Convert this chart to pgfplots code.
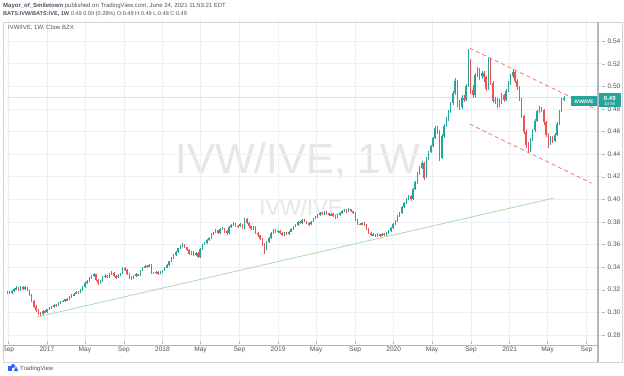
\documentclass[border=0pt]{standalone}
\usepackage{fontspec}
\setmainfont{Liberation Sans}
\usepackage{pgfplots}
\pgfplotsset{compat=1.18}
\usepackage{pgfplotstable}
\definecolor{upc}{HTML}{26A69A}
\definecolor{dnc}{HTML}{EF5350}
\definecolor{gridc}{HTML}{EAF0F6}
\definecolor{txtc}{HTML}{50535E}
\definecolor{framec}{HTML}{D1D4DC}
\definecolor{sepc}{HTML}{B2B5BE}
\definecolor{chc}{HTML}{F47A7C}
\definecolor{trc}{HTML}{A5D6A7}
\definecolor{wmc}{HTML}{E6E6E6}
\definecolor{tvblue}{HTML}{2962FF}
\definecolor{plc}{HTML}{CDE9E6}

\pgfplotstableread{
i o h l c
0 0.3180 0.3192 0.3165 0.3175
1 0.3175 0.3185 0.3160 0.3170
2 0.3170 0.3195 0.3162 0.3185
3 0.3185 0.3215 0.3178 0.3205
4 0.3205 0.3230 0.3195 0.3215
5 0.3215 0.3225 0.3190 0.3200
6 0.3200 0.3235 0.3192 0.3225
7 0.3225 0.3232 0.3200 0.3210
8 0.3210 0.3232 0.3198 0.3220
9 0.3220 0.3228 0.3185 0.3195
10 0.3195 0.3200 0.3140 0.3150
11 0.3150 0.3158 0.3090 0.3100
12 0.3100 0.3105 0.3040 0.3050
13 0.3050 0.3062 0.3005 0.3020
14 0.3020 0.3030 0.2978 0.2990
15 0.2990 0.3002 0.2968 0.2985
16 0.2985 0.3018 0.2975 0.3010
17 0.3010 0.3020 0.2990 0.3000
18 0.3000 0.3032 0.2995 0.3025
19 0.3025 0.3048 0.3018 0.3040
20 0.3040 0.3060 0.3032 0.3050
21 0.3050 0.3072 0.3042 0.3065
22 0.3065 0.3075 0.3050 0.3060
23 0.3060 0.3088 0.3055 0.3080
24 0.3080 0.3102 0.3072 0.3095
25 0.3095 0.3110 0.3088 0.3100
26 0.3100 0.3122 0.3092 0.3115
27 0.3115 0.3125 0.3102 0.3110
28 0.3110 0.3142 0.3105 0.3135
29 0.3135 0.3158 0.3128 0.3150
30 0.3150 0.3172 0.3142 0.3165
31 0.3165 0.3190 0.3158 0.3180
32 0.3180 0.3192 0.3165 0.3175
33 0.3175 0.3208 0.3170 0.3200
34 0.3200 0.3232 0.3192 0.3225
35 0.3225 0.3268 0.3218 0.3260
36 0.3260 0.3285 0.3250 0.3275
37 0.3275 0.3310 0.3268 0.3300
38 0.3300 0.3330 0.3292 0.3320
39 0.3320 0.3348 0.3310 0.3335
40 0.3335 0.3340 0.3278 0.3290
41 0.3290 0.3298 0.3240 0.3260
42 0.3260 0.3288 0.3250 0.3275
43 0.3275 0.3318 0.3268 0.3310
44 0.3310 0.3335 0.3302 0.3325
45 0.3325 0.3332 0.3305 0.3315
46 0.3315 0.3345 0.3308 0.3335
47 0.3335 0.3362 0.3328 0.3350
48 0.3350 0.3355 0.3310 0.3320
49 0.3320 0.3328 0.3298 0.3310
50 0.3310 0.3335 0.3302 0.3325
51 0.3325 0.3350 0.3318 0.3340
52 0.3340 0.3398 0.3335 0.3390
53 0.3390 0.3402 0.3365 0.3375
54 0.3375 0.3380 0.3330 0.3340
55 0.3340 0.3348 0.3298 0.3310
56 0.3310 0.3318 0.3285 0.3300
57 0.3300 0.3332 0.3292 0.3325
58 0.3325 0.3345 0.3315 0.3335
59 0.3335 0.3342 0.3320 0.3330
60 0.3330 0.3378 0.3325 0.3370
61 0.3370 0.3405 0.3362 0.3395
62 0.3395 0.3420 0.3388 0.3410
63 0.3410 0.3418 0.3395 0.3405
64 0.3405 0.3430 0.3398 0.3420
65 0.3420 0.3425 0.3340 0.3350
66 0.3350 0.3360 0.3335 0.3345
67 0.3345 0.3368 0.3338 0.3360
68 0.3360 0.3365 0.3330 0.3340
69 0.3340 0.3362 0.3335 0.3355
70 0.3355 0.3378 0.3348 0.3370
71 0.3370 0.3402 0.3365 0.3395
72 0.3395 0.3428 0.3390 0.3420
73 0.3420 0.3458 0.3412 0.3450
74 0.3450 0.3490 0.3442 0.3480
75 0.3480 0.3518 0.3472 0.3510
76 0.3510 0.3545 0.3502 0.3535
77 0.3535 0.3572 0.3528 0.3565
78 0.3565 0.3600 0.3558 0.3590
79 0.3590 0.3612 0.3582 0.3600
80 0.3600 0.3608 0.3565 0.3575
81 0.3575 0.3582 0.3540 0.3550
82 0.3550 0.3558 0.3510 0.3520
83 0.3520 0.3545 0.3508 0.3535
84 0.3535 0.3542 0.3498 0.3510
85 0.3510 0.3535 0.3500 0.3525
86 0.3525 0.3530 0.3478 0.3490
87 0.3490 0.3568 0.3485 0.3560
88 0.3560 0.3608 0.3552 0.3600
89 0.3600 0.3625 0.3592 0.3615
90 0.3615 0.3650 0.3608 0.3640
91 0.3640 0.3670 0.3632 0.3660
92 0.3660 0.3698 0.3652 0.3690
93 0.3690 0.3715 0.3682 0.3705
94 0.3705 0.3735 0.3698 0.3725
95 0.3725 0.3732 0.3690 0.3700
96 0.3700 0.3742 0.3695 0.3735
97 0.3735 0.3755 0.3725 0.3745
98 0.3745 0.3750 0.3705 0.3720
99 0.3720 0.3728 0.3680 0.3700
100 0.3700 0.3762 0.3695 0.3755
101 0.3755 0.3780 0.3748 0.3770
102 0.3770 0.3795 0.3762 0.3785
103 0.3785 0.3790 0.3755 0.3765
104 0.3765 0.3772 0.3748 0.3760
105 0.3760 0.3788 0.3752 0.3780
106 0.3780 0.3785 0.3735 0.3745
107 0.3745 0.3838 0.3740 0.3830
108 0.3830 0.3835 0.3780 0.3790
109 0.3790 0.3795 0.3748 0.3760
110 0.3760 0.3768 0.3728 0.3740
111 0.3740 0.3765 0.3730 0.3755
112 0.3755 0.3760 0.3690 0.3700
113 0.3700 0.3708 0.3668 0.3680
114 0.3680 0.3688 0.3638 0.3650
115 0.3650 0.3655 0.3585 0.3600
116 0.3600 0.3610 0.3520 0.3560
117 0.3560 0.3628 0.3552 0.3620
118 0.3620 0.3668 0.3612 0.3660
119 0.3660 0.3708 0.3652 0.3700
120 0.3700 0.3740 0.3692 0.3730
121 0.3730 0.3738 0.3705 0.3715
122 0.3715 0.3732 0.3705 0.3720
123 0.3720 0.3728 0.3690 0.3700
124 0.3700 0.3708 0.3672 0.3685
125 0.3685 0.3712 0.3678 0.3705
126 0.3705 0.3712 0.3680 0.3690
127 0.3690 0.3722 0.3685 0.3715
128 0.3715 0.3748 0.3708 0.3740
129 0.3740 0.3768 0.3732 0.3760
130 0.3760 0.3785 0.3752 0.3775
131 0.3775 0.3808 0.3768 0.3800
132 0.3800 0.3810 0.3780 0.3790
133 0.3790 0.3822 0.3785 0.3815
134 0.3815 0.3825 0.3795 0.3805
135 0.3805 0.3812 0.3780 0.3790
136 0.3790 0.3798 0.3768 0.3780
137 0.3780 0.3808 0.3772 0.3800
138 0.3800 0.3838 0.3795 0.3830
139 0.3830 0.3855 0.3822 0.3845
140 0.3845 0.3870 0.3838 0.3860
141 0.3860 0.3890 0.3852 0.3880
142 0.3880 0.3888 0.3860 0.3870
143 0.3870 0.3898 0.3862 0.3890
144 0.3890 0.3895 0.3865 0.3875
145 0.3875 0.3880 0.3850 0.3860
146 0.3860 0.3880 0.3852 0.3870
147 0.3870 0.3875 0.3845 0.3855
148 0.3855 0.3862 0.3830 0.3840
149 0.3840 0.3868 0.3835 0.3860
150 0.3860 0.3885 0.3852 0.3875
151 0.3875 0.3902 0.3868 0.3895
152 0.3895 0.3915 0.3888 0.3905
153 0.3905 0.3910 0.3880 0.3890
154 0.3890 0.3920 0.3885 0.3910
155 0.3910 0.3915 0.3885 0.3895
156 0.3895 0.3900 0.3870 0.3880
157 0.3880 0.3885 0.3810 0.3820
158 0.3820 0.3825 0.3775 0.3785
159 0.3785 0.3792 0.3770 0.3780
160 0.3780 0.3798 0.3772 0.3790
161 0.3790 0.3795 0.3765 0.3775
162 0.3775 0.3780 0.3730 0.3740
163 0.3740 0.3745 0.3690 0.3700
164 0.3700 0.3708 0.3675 0.3685
165 0.3685 0.3700 0.3678 0.3690
166 0.3690 0.3695 0.3665 0.3675
167 0.3675 0.3698 0.3668 0.3690
168 0.3690 0.3695 0.3670 0.3680
169 0.3680 0.3702 0.3672 0.3695
170 0.3695 0.3700 0.3675 0.3685
171 0.3685 0.3708 0.3678 0.3700
172 0.3700 0.3728 0.3695 0.3720
173 0.3720 0.3752 0.3712 0.3745
174 0.3745 0.3788 0.3738 0.3780
175 0.3780 0.3820 0.3772 0.3810
176 0.3810 0.3858 0.3802 0.3850
177 0.3850 0.3892 0.3842 0.3880
178 0.3880 0.3940 0.3872 0.3930
179 0.3930 0.3980 0.3920 0.3970
180 0.3970 0.4012 0.3960 0.4000
181 0.4000 0.4042 0.3990 0.4030
182 0.4030 0.4040 0.3985 0.4000
183 0.4000 0.4100 0.3995 0.4090
184 0.4090 0.4162 0.4080 0.4150
185 0.4150 0.4245 0.4140 0.4230
186 0.4230 0.4295 0.4218 0.4280
187 0.4280 0.4335 0.4265 0.4320
188 0.4320 0.4330 0.4175 0.4190
189 0.4190 0.4372 0.4185 0.4360
190 0.4360 0.4432 0.4350 0.4420
191 0.4420 0.4485 0.4410 0.4470
192 0.4470 0.4555 0.4460 0.4540
193 0.4540 0.4650 0.4530 0.4630
194 0.4630 0.4648 0.4580 0.4600
195 0.4600 0.4610 0.4340 0.4370
196 0.4370 0.4575 0.4360 0.4560
197 0.4560 0.4668 0.4545 0.4650
198 0.4650 0.4725 0.4640 0.4710
199 0.4710 0.4790 0.4695 0.4770
200 0.4770 0.4865 0.4760 0.4850
201 0.4850 0.4960 0.4835 0.4940
202 0.4940 0.5070 0.4925 0.5050
203 0.5050 0.5060 0.4820 0.4860
204 0.4860 0.4880 0.4790 0.4820
205 0.4820 0.4920 0.4800 0.4900
206 0.4900 0.4925 0.4860 0.4880
207 0.4880 0.5020 0.4870 0.5000
208 0.5000 0.5335 0.4990 0.5200
209 0.5200 0.5240 0.4930 0.4970
210 0.4970 0.5010 0.4895 0.4920
211 0.4920 0.5120 0.4905 0.5100
212 0.5100 0.5175 0.5080 0.5150
213 0.5150 0.5165 0.5060 0.5090
214 0.5090 0.5140 0.5065 0.5120
215 0.5120 0.5135 0.5040 0.5080
216 0.5080 0.5095 0.4960 0.4980
217 0.4980 0.5255 0.4970 0.5240
218 0.5240 0.5250 0.5010 0.5030
219 0.5030 0.5045 0.4850 0.4870
220 0.4870 0.4910 0.4840 0.4880
221 0.4880 0.4900 0.4810 0.4830
222 0.4830 0.4885 0.4815 0.4860
223 0.4860 0.4940 0.4845 0.4920
224 0.4920 0.4935 0.4860 0.4880
225 0.4880 0.4975 0.4870 0.4960
226 0.4960 0.5045 0.4950 0.5030
227 0.5030 0.5110 0.5015 0.5090
228 0.5090 0.5155 0.5070 0.5130
229 0.5130 0.5140 0.5030 0.5050
230 0.5050 0.5065 0.4970 0.4990
231 0.4990 0.5000 0.4870 0.4890
232 0.4890 0.4900 0.4720 0.4740
233 0.4740 0.4750 0.4580 0.4600
234 0.4600 0.4615 0.4455 0.4480
235 0.4480 0.4510 0.4410 0.4430
236 0.4430 0.4545 0.4420 0.4530
237 0.4530 0.4625 0.4515 0.4610
238 0.4610 0.4710 0.4600 0.4690
239 0.4690 0.4795 0.4680 0.4780
240 0.4780 0.4825 0.4765 0.4800
241 0.4800 0.4820 0.4770 0.4790
242 0.4790 0.4800 0.4660 0.4680
243 0.4680 0.4690 0.4550 0.4570
244 0.4570 0.4585 0.4450 0.4500
245 0.4500 0.4560 0.4480 0.4540
246 0.4540 0.4560 0.4500 0.4520
247 0.4520 0.4590 0.4505 0.4570
248 0.4570 0.4685 0.4560 0.4670
249 0.4670 0.4795 0.4660 0.4780
250 0.4780 0.4895 0.4770 0.4880
251 0.4880 0.4915 0.4870 0.4900
}\candles

\begin{document}
\begin{tikzpicture}[x=1pt,y=1pt]
\useasboundingbox (0,0) rectangle (624,375);
\fill[white] (0,0) rectangle (624,375);
% header
\node[anchor=west, inner sep=0pt, text=txtc, font=\fontsize{6}{7}\selectfont] at (3,369.5) {\textbf{Mayor\_of\_Smiletown} published on TradingView.com, June 24, 2021 11:53:21 EDT};
\node[anchor=west, inner sep=0pt, text=txtc, font=\fontsize{5.6}{7}\selectfont] at (3,361) {\textbf{BATS:IVW/BATS:IVE, 1W} 0.49 0.00 (0.28\%) O:0.49 H:0.49 L:0.48 C:0.49};
% watermarks
\node[text=wmc, font=\fontsize{42}{44}\selectfont, inner sep=0pt] at (298,214) {IVW/IVE, 1W};
\node[text=wmc, font=\fontsize{22}{24}\selectfont, inner sep=0pt] at (301,167) {IVW/IVE};
\begin{axis}[
  at={(3,30)}, anchor=south west, scale only axis,
  width=595pt, height=323pt,
  xmin=-0.3, xmax=268.1, ymin=0.2745, ymax=0.5604,
  axis line style={draw=none},
  xtick pos=lower, ytick pos=upper, yticklabel pos=right,
  xtick={0.43,17.86,35.0,52.57,70.0,87.14,104.71,122.14,139.29,156.86,174.29,191.57,209.14,226.57,243.71,261.29},
  xticklabels={Sep,2017,May,Sep,2018,May,Sep,2019,May,Sep,2020,May,Sep,2021,May,Sep},
  ytick={0.28,0.30,0.32,0.34,0.36,0.38,0.40,0.42,0.44,0.46,0.48,0.50,0.52,0.54},
  yticklabels={0.28,0.30,0.32,0.34,0.36,0.38,0.40,0.42,0.44,0.46,0.48,0.50,0.52,0.54},
  grid=major, major grid style={draw=gridc, line width=0.5pt},
  tick align=outside, major tick length=3pt,
  tick style={draw=sepc, line width=0.4pt},
  ticklabel style={font=\fontsize{6.6}{7}\selectfont, text=txtc},
  xticklabel style={yshift=1pt},
  yticklabel style={inner sep=0.5pt, xshift=2.2pt},
]
% trend lines
\addplot[trc, line width=0.7pt] coordinates {(13.3,0.2958) (246.5,0.4011)};
\addplot[plc, line width=0.6pt] coordinates {(-0.3,0.49) (268.1,0.49)};
\addplot[chc, line width=0.8pt, dash pattern=on 4pt off 3pt] coordinates {(208.6,0.5338) (264.5,0.4807)};
\addplot[chc, line width=0.8pt, dash pattern=on 4pt off 3pt] coordinates {(208.6,0.4665) (263.6,0.4143)};
% up wicks
\addplot[draw=none, mark=none, restrict y to domain=0:1,
  error bars/.cd, y dir=both, y explicit, error mark=none,
  error bar style={draw=upc, line width=0.45pt}]
  table[x=i, y expr={(\thisrow{h}+\thisrow{l})/2+10*(\thisrow{c}<\thisrow{o})},
        y error expr={(\thisrow{h}-\thisrow{l})/2}] {\candles};
% down wicks
\addplot[draw=none, mark=none, restrict y to domain=0:1,
  error bars/.cd, y dir=both, y explicit, error mark=none,
  error bar style={draw=dnc, line width=0.45pt}]
  table[x=i, y expr={(\thisrow{h}+\thisrow{l})/2+10*(1-(\thisrow{c}<\thisrow{o}))},
        y error expr={(\thisrow{h}-\thisrow{l})/2}] {\candles};
% up bodies
\addplot[draw=none, mark=none, restrict y to domain=0:1,
  error bars/.cd, y dir=both, y explicit, error mark=none,
  error bar style={draw=upc, line width=1.45pt}]
  table[x=i, y expr={(\thisrow{o}+\thisrow{c})/2+10*(\thisrow{c}<\thisrow{o})},
        y error expr={max(abs(\thisrow{c}-\thisrow{o})/2,0.0003)}] {\candles};
% down bodies
\addplot[draw=none, mark=none, restrict y to domain=0:1,
  error bars/.cd, y dir=both, y explicit, error mark=none,
  error bar style={draw=dnc, line width=1.45pt}]
  table[x=i, y expr={(\thisrow{o}+\thisrow{c})/2+10*(1-(\thisrow{c}<\thisrow{o}))},
        y error expr={max(abs(\thisrow{c}-\thisrow{o})/2,0.0003)}] {\candles};
\end{axis}
% frame and separators
\draw[framec, line width=0.6pt] (3,13) rectangle (622,353);
\draw[sepc, line width=0.8pt] (3,30) -- (598,30);
\draw[sepc, line width=1.2pt] (598,13) -- (598,353);
% pane caption
\node[anchor=west, inner sep=0pt, text=txtc, font=\fontsize{6}{7}\selectfont] at (8,347) {IVW/IVE, 1W, Cboe BZX};
% price labels
\fill[upc] (571,268.5) rectangle (597.2,278.5);
\node[text=white, font=\fontsize{5}{6}\selectfont\bfseries, inner sep=0pt] at (584,273.5) {IVW/IVE};
\fill[upc] (598.6,267.5) rectangle (621,281.5);
\node[text=white, font=\fontsize{6}{6}\selectfont\bfseries, inner sep=0pt] at (609.8,277) {0.49};
\node[text=white, font=\fontsize{4.4}{5}\selectfont, inner sep=0pt] at (609.8,270.8) {1d 5h};
% TradingView logo
\fill[tvblue] (8,4) rectangle (12,9);
\fill[tvblue] (13,9) circle (2);
\fill[tvblue] (14,4) -- (18,4) -- (16,9) -- cycle;
\node[anchor=west, inner sep=0pt, text=txtc, font=\fontsize{6}{7}\selectfont] at (20,6.5) {TradingView};
\end{tikzpicture}
\end{document}
